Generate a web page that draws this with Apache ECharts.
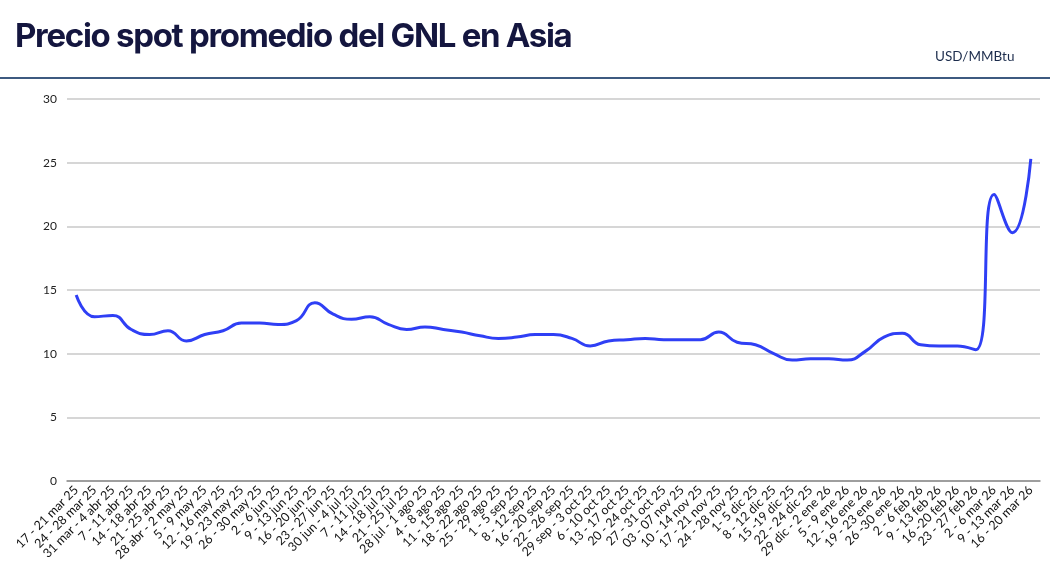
<!DOCTYPE html>
<html>
<head>
<meta charset="utf-8">
<script src="https://cdn.jsdelivr.net/npm/echarts@6/dist/echarts.min.js"></script>
<style>
  html, body { margin: 0; padding: 0; background: #fff; }
  #wrap { position: relative; width: 1050px; height: 582px; overflow: hidden; }
  #title { position: absolute; left: 15px; top: 15px; font-family: Inter, "Noto Sans", sans-serif; font-weight: 700; font-size: 33px; letter-spacing: -1.3px; color: #14163f; white-space: nowrap; }
  #unit { position: absolute; left: 935px; top: 48px; font-family: Lato, "Noto Sans", sans-serif; font-size: 13.5px; color: #1c2c4c; }
  #rule { position: absolute; left: 0; top: 77px; width: 1050px; height: 2px; background: #3d5a80; }
  #chart { position: absolute; left: 0; top: 0; width: 1050px; height: 582px; }
</style>
</head>
<body>
<div id="wrap">
  <div id="chart"></div>
  <div id="title">Precio spot promedio del GNL en Asia</div>
  <div id="unit">USD/MMBtu</div>
  <div id="rule"></div>
</div>
<script>
const categories = [
  "17 - 21 mar 25","24 - 28 mar 25","31 mar - 4 abr 25","7 - 11 abr 25","14 - 18 abr 25",
  "21 - 25 abr 25","28 abr - 2 may 25","5 - 9 may 25","12 - 16 may 25","19 - 23 may 25",
  "26 - 30 may 25","2 - 6 jun 25","9 - 13 jun 25","16 - 20 jun 25","23 - 27 jun 25",
  "30 jun - 4 jul 25","7 - 11 jul 25","14 - 18 jul 25","21 - 25 jul 25","28 jul - 1 ago 25",
  "4 - 8 ago 25","11 - 15 ago 25","18 - 22 ago 25","25 - 29 ago 25","1 - 5 sep 25",
  "8 - 12 sep 25","16 - 20 sep 25","22 - 26 sep 25","29 sep - 3 oct 25","6 - 10 oct 25",
  "13 - 17 oct 25","20 - 24 oct 25","27 - 31 oct 25","03 - 07 nov 25","10 - 14 nov 25",
  "17 - 21 nov 25","24 - 28 nov 25","1- 5 dic 25","8 - 12 dic 25","15 -19 dic 25",
  "22 - 24 dic 25","29 dic - 2 ene 26","5 - 9 ene 26","12 - 16 ene 26","19 - 23 ene 26",
  "26 -30 ene 26","2 - 6 feb 26","9 - 13 feb 26","16 -20 feb 26","23 - 27 feb 26",
  "2 - 6 mar 26","9 - 13 mar 26","16 - 20 mar 26"
];
const prices = [
  14.6, 12.9, 13.0, 11.9, 11.5, 11.8, 11.0, 11.5, 11.8, 12.4,
  12.4, 12.3, 12.6, 14.0, 13.1, 12.7, 12.9, 12.3, 11.9, 12.1,
  11.9, 11.7, 11.4, 11.2, 11.3, 11.5, 11.5, 11.2, 10.6, 11.0,
  11.1, 11.2, 11.1, 11.1, 11.1, 11.7, 10.9, 10.7, 10.0, 9.5,
  9.6, 9.6, 9.5, 10.2, 11.3, 11.6, 10.7, 10.6, 10.6, 10.3,
  22.5, 19.5, 25.3
];
const yTicks = { min: 0, max: 30, interval: 5 };

const chart = echarts.init(document.getElementById('chart'), null, { renderer: 'canvas' });
chart.setOption({
  animation: false,
  grid: { left: 67, right: 10, top: 99, bottom: 101, containLabel: false },
  xAxis: {
    type: 'category',
    data: categories,
    boundaryGap: true,
    axisLine: { lineStyle: { color: '#8c8c8c', width: 1.5 } },
    axisTick: { show: false },
    axisLabel: { interval: 0, rotate: 45, fontFamily: 'Lato, "Noto Sans", sans-serif', fontSize: 12.5, color: '#111', margin: 7 }
  },
  yAxis: {
    type: 'value',
    min: yTicks.min, max: yTicks.max, interval: yTicks.interval,
    axisLine: { show: false },
    axisTick: { show: false },
    splitLine: { lineStyle: { color: '#c8c8c8', width: 1.5 } },
    axisLabel: { fontFamily: 'Lato, "Noto Sans", sans-serif', fontSize: 12, color: '#222', margin: 10 }
  },
  series: [{
    type: 'line',
    data: prices,
    smooth: 0.5,
    symbol: 'none',
    lineStyle: { color: '#2f3ff5', width: 3 }
  }]
});
</script>
</body>
</html>
